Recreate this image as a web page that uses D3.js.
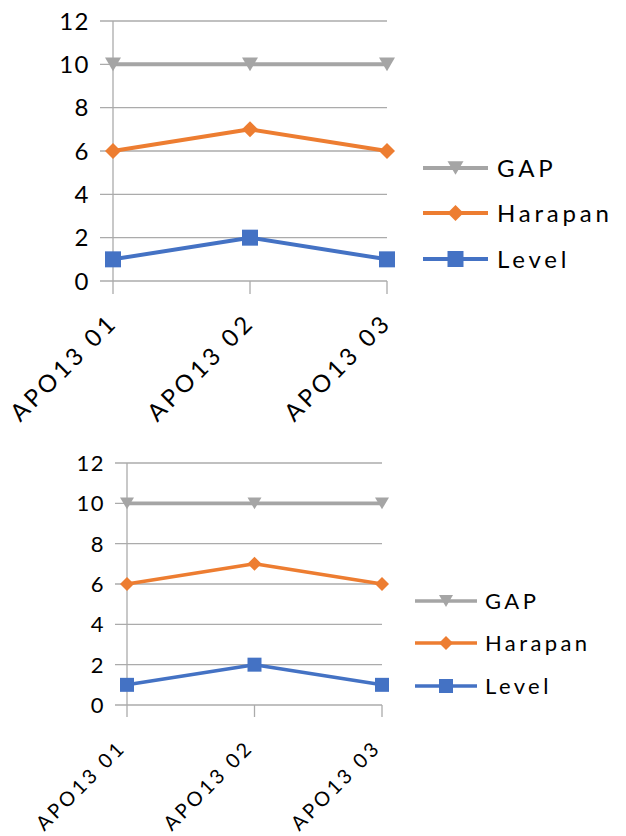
<!DOCTYPE html>
<html><head><meta charset="utf-8">
<script src="https://cdn.jsdelivr.net/npm/d3@7"></script>
<style>body{margin:0;background:#fff}svg{display:block}text{font-family:Lato,"Open Sans",sans-serif;fill:#000}</style>
</head><body><svg id="c" width="626" height="836"></svg>
<script>
const categories = ["APO13 01", "APO13 02", "APO13 03"];
const gapValues = [10, 10, 10];
const harapanValues = [6, 7, 6];
const levelValues = [1, 2, 1];
const yTicks = [0, 2, 4, 6, 8, 10, 12];
const seriesNames = ["GAP", "Harapan", "Level"];
const seriesColors = ["#A5A5A5", "#ED7D31", "#4472C4"];
const seriesSymbols = ["tri", "diamond", "square"];
const seriesData = [gapValues, harapanValues, levelValues];

const svg = d3.select("#c");

function markerPath(type, s) {
  const h = s / 2;
  if (type === "tri") return `M${-h},${-h*0.85}L${h},${-h*0.85}L0,${h*0.85}Z`;
  if (type === "diamond") return `M0,${-h}L${h},0L0,${h}L${-h},0Z`;
  return `M${-h},${-h}L${h},${-h}L${h},${h}L${-h},${h}Z`;
}

function drawChart(o) {
  const g = svg.append("g");
  const x = d3.scalePoint().domain(categories).range([o.x0, o.x1]);
  const y = d3.scaleLinear().domain([0, 12]).range([o.yBottom, o.yTop]);
  g.append("g").selectAll("line").data(yTicks).join("line")
    .attr("x1", o.x0 - o.tickLen).attr("x2", o.x1)
    .attr("y1", d => y(d)).attr("y2", d => y(d))
    .attr("stroke", "#ABABAB").attr("stroke-width", 1.3);
  g.append("line").attr("x1", o.x0).attr("x2", o.x0).attr("y1", o.yTop).attr("y2", o.yBottom + o.tickLen)
    .attr("stroke", "#ABABAB").attr("stroke-width", 1.3);
  g.append("g").selectAll("line").data(categories.slice(1)).join("line")
    .attr("x1", d => x(d)).attr("x2", d => x(d)).attr("y1", o.yBottom).attr("y2", o.yBottom + o.tickLen)
    .attr("stroke", "#ABABAB").attr("stroke-width", 1.3);
  g.append("g").selectAll("text").data(yTicks).join("text")
    .attr("x", o.yLabelX).attr("y", d => y(d)).attr("dy", "0.36em")
    .attr("text-anchor", "end").style("font-size", o.fs + "px").style("letter-spacing", "1.5px").text(d => d);
  g.append("g").selectAll("text").data(categories).join("text")
    .attr("transform", d => `translate(${x(d) + o.xlDx},${o.yBottom + o.xlDy}) rotate(-45)`)
    .attr("text-anchor", "end").style("font-size", o.xfs + "px").style("letter-spacing", o.xls + "px").text(d => d);
  const line = d3.line().x((d, i) => x(categories[i])).y(d => y(d));
  seriesData.forEach((vals, si) => {
    g.append("path").datum(vals).attr("d", line).attr("fill", "none")
      .attr("stroke", seriesColors[si]).attr("stroke-width", o.lw).attr("stroke-linejoin", "round");
    g.append("g").selectAll("path").data(vals).join("path")
      .attr("transform", (d, i) => `translate(${x(categories[i])},${y(d)})`)
      .attr("d", markerPath(seriesSymbols[si], o.ms)).attr("fill", seriesColors[si]);
  });
  const lg = g.append("g");
  seriesNames.forEach((n, i) => {
    const ly = o.legY[i];
    lg.append("line").attr("x1", o.legX0).attr("x2", o.legX1).attr("y1", ly).attr("y2", ly)
      .attr("stroke", seriesColors[i]).attr("stroke-width", o.lw);
    lg.append("path").attr("transform", `translate(${(o.legX0 + o.legX1) / 2},${ly})`)
      .attr("d", markerPath(seriesSymbols[i], o.ms)).attr("fill", seriesColors[i]);
    lg.append("text").attr("x", o.legTx).attr("y", ly).attr("dy", "0.36em")
      .style("font-size", o.fs + "px").style("letter-spacing", o.ls + "px").text(n);
  });
}

drawChart({x0: 113, x1: 387, yTop: 21, yBottom: 281, tickLen: 13, yLabelX: 90, fs: 24, ls: 3.8,
  xfs: 24, xls: 3.5, xlDx: 6, xlDy: 43, lw: 4, ms: 16, legX0: 423, legX1: 488, legY: [168, 213, 259], legTx: 497});
drawChart({x0: 127, x1: 382, yTop: 463, yBottom: 705, tickLen: 12, yLabelX: 105, fs: 22, ls: 3.4,
  xfs: 20, xls: 3, xlDx: 0, xlDy: 44, lw: 3.6, ms: 14, legX0: 415, legX1: 477, legY: [601, 643, 686], legTx: 485});
</script></body></html>
